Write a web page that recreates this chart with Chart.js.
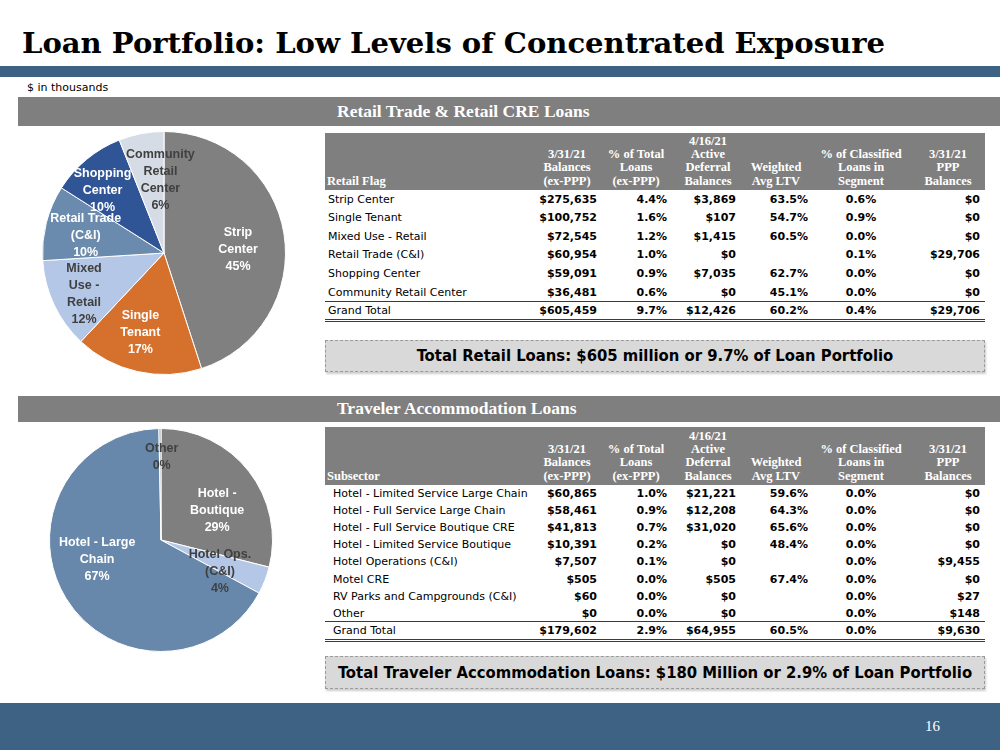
<!DOCTYPE html>
<html>
<head>
<meta charset="utf-8">
<script src="https://cdn.jsdelivr.net/npm/chart.js@4.4.0/dist/chart.umd.min.js"></script>
<style>
body { margin:0; width:1000px; height:750px; position:relative; background:#fff; overflow:hidden; font-family:'DejaVu Sans', sans-serif; }
.abs { position:absolute; white-space:nowrap; }
#title { left:22px; top:26px; font:bold 28px 'DejaVu Serif', serif; color:#000; line-height:36px; transform-origin:0 0; }
.band { left:0; width:1000px; background:#3d6283; }
.section { left:18px; width:982px; background:#7f7f7f; }
.section span { position:absolute; left:319px; color:#fff; font:bold 17.5px 'Liberation Serif', serif; }
.thead { left:325px; width:660px; background:#7f7f7f; }
.hcell { color:#fff; font:bold 12.5px 'Liberation Serif', serif; line-height:13.3px; text-align:center; width:110px; }
.hleft { text-align:left; }
.cell { font-size:11px; line-height:14px; height:14px; color:#000; }
.num { font-weight:bold; }
.rule { left:325px; width:660px; }
.callout { left:325px; width:658px; background:#d9d9d9; border:1px dashed #9a9a9a; text-align:center;
  font:bold 16.5px 'DejaVu Sans Condensed', sans-serif; color:#000; box-shadow:1px 2px 2px rgba(0,0,0,0.2); }
canvas { position:absolute; }
</style>
</head>
<body>
<div id="title" class="abs">Loan Portfolio: Low Levels of Concentrated Exposure</div>
<div class="abs band" style="top:66px;height:11px;"></div>
<div class="abs" style="left:27px;top:81px;font-size:11px;">$ in thousands</div>

<div class="abs section" style="top:97px;height:29px;"><span style="top:4px;">Retail Trade &amp; Retail CRE Loans</span></div>
<div class="abs section" style="top:396px;height:26px;"><span style="top:2px;">Traveler Accommodation Loans</span></div>

<canvas id="retailPie" width="244" height="244" style="left:42px;top:131px;"></canvas>
<canvas id="hotelPie" width="224" height="224" style="left:49px;top:428px;"></canvas>

<div id="tables"></div>

<div class="abs callout" style="top:340px;height:30px;line-height:30px;">Total Retail Loans: $605 million or 9.7% of Loan Portfolio</div>
<div class="abs callout" style="top:656px;height:31px;line-height:31px;">Total Traveler Accommodation Loans: $180 Million or 2.9% of Loan Portfolio</div>

<div class="abs band" style="top:703px;height:47px;"></div>
<div class="abs" style="left:925px;top:718px;font:15px 'Liberation Serif', serif;color:#fff;">16</div>

<script>
// retail table
const retailFlags = ['Strip Center', 'Single Tenant', 'Mixed Use - Retail', 'Retail Trade (C&I)', 'Shopping Center', 'Community Retail Center'];
const retailBalances = [275635, 100752, 72545, 60954, 59091, 36481];
const retailPctTotal = [4.4, 1.6, 1.2, 1.0, 0.9, 0.6];
const retailDeferral = [3869, 107, 1415, 0, 7035, 0];
const retailLtv = [63.5, 54.7, 60.5, null, 62.7, 45.1];
const retailClassified = [0.6, 0.9, 0.0, 0.1, 0.0, 0.0];
const retailPpp = [0, 0, 0, 29706, 0, 0];
const retailTotal = [605459, 9.7, 12426, 60.2, 0.4, 29706];

// retail pie
const retailPieLabels = [['Strip', 'Center'], ['Single', 'Tenant'], ['Mixed', 'Use -', 'Retail'], ['Retail Trade', '(C&I)'], ['Shopping', 'Center'], ['Community', 'Retail', 'Center']];
const retailPiePct = [45, 17, 12, 10, 10, 6];

// hotel table
const hotelSubsectors = ['Hotel - Limited Service Large Chain', 'Hotel - Full Service Large Chain', 'Hotel - Full Service Boutique CRE', 'Hotel - Limited Service Boutique', 'Hotel Operations (C&I)', 'Motel CRE', 'RV Parks and Campgrounds (C&I)', 'Other'];
const hotelBalances = [60865, 58461, 41813, 10391, 7507, 505, 60, 0];
const hotelPctTotal = [1.0, 0.9, 0.7, 0.2, 0.1, 0.0, 0.0, 0.0];
const hotelDeferral = [21221, 12208, 31020, 0, 0, 505, 0, 0];
const hotelLtv = [59.6, 64.3, 65.6, 48.4, null, 67.4, null, null];
const hotelClassified = [0.0, 0.0, 0.0, 0.0, 0.0, 0.0, 0.0, 0.0];
const hotelPpp = [0, 0, 0, 0, 9455, 0, 27, 148];
const hotelTotal = [179602, 2.9, 64955, 60.5, 0.0, 9630];

// hotel pie
const hotelPieLabels = [['Hotel -', 'Boutique'], ['Hotel Ops.', '(C&I)'], ['Hotel - Large', 'Chain'], ['Other']];
const hotelPiePct = [29, 4, 67, 0.3];

const headers = ['3/31/21<br>Balances<br>(ex-PPP)', '% of Total<br>Loans<br>(ex-PPP)', '4/16/21<br>Active<br>Deferral<br>Balances',
  'Weighted<br>Avg LTV', '% of Classified<br>Loans in<br>Segment', '3/31/21<br>PPP<br>Balances'];
const headCenters = [567, 636, 708, 776, 861, 948];
// [x, align] for the value columns
const cols = [[597, 'r'], [667, 'r'], [736, 'r'], [808, 'r'], [861, 'c'], [980, 'r']];

const money = v => '$' + v.toLocaleString('en-US');
const pct = v => v == null ? '' : v.toFixed(1) + '%';
const fmts = [money, pct, money, pct, pct, money];

// fit title width to the slide
const title = document.getElementById('title');
title.style.transform = 'scaleX(' + (863 / title.getBoundingClientRect().width) + ')';

const host = document.getElementById('tables');
function el(cls, css, html) {
  const d = document.createElement('div');
  d.className = 'abs ' + cls;
  d.style.cssText = css;
  d.innerHTML = html;
  host.appendChild(d);
  return d;
}

function drawTable(t) {
  el('thead', `top:${t.headTop}px;height:${t.headBottom - t.headTop}px;`, '');
  el('hcell hleft', `left:327px;bottom:${750 - t.headBottom + 2}px;`, t.firstHeader);
  headers.forEach((h, i) => {
    el('hcell', `left:${headCenters[i] - 55}px;bottom:${750 - t.headBottom + 2}px;`, h);
  });
  const rows = t.names.map((n, i) => [n, t.series.map(s => s[i])]);
  rows.push(['Grand Total', t.total]);
  rows.forEach((r, i) => {
    const y = t.rowTop + i * t.pitch - 7;
    el('cell', `left:${t.nameX}px;top:${y}px;`, r[0].replace('&', '&amp;'));
    r[1].forEach((v, c) => {
      const [x, a] = cols[c];
      const txt = fmts[c](v);
      if (a === 'r') el('cell num', `right:${1000 - x}px;top:${y}px;`, txt);
      else el('cell num', `left:${x - 30}px;width:60px;text-align:center;top:${y}px;`, txt);
    });
  });
  const gtY = t.rowTop + t.names.length * t.pitch;
  el('rule', `top:${gtY - 10}px;height:0;border-top:1.5px solid #3a3a3a;`, '');
  el('rule', `top:${gtY + 8}px;height:0;border-top:3px double #3a3a3a;`, '');
}

drawTable({
  names: retailFlags, firstHeader: 'Retail Flag', nameX: 328,
  series: [retailBalances, retailPctTotal, retailDeferral, retailLtv, retailClassified, retailPpp],
  total: retailTotal, headTop: 133, headBottom: 190, rowTop: 199.5, pitch: 18.6
});
drawTable({
  names: hotelSubsectors, firstHeader: 'Subsector', nameX: 333,
  series: [hotelBalances, hotelPctTotal, hotelDeferral, hotelLtv, hotelClassified, hotelPpp],
  total: hotelTotal, headTop: 427, headBottom: 485, rowTop: 494, pitch: 17.1
});

// labels inside the slices
const sliceLabels = {
  id: 'sliceLabels',
  afterDatasetsDraw(chart, args, opts) {
    const ctx = chart.ctx;
    const meta = chart.getDatasetMeta(0);
    const data = chart.data.datasets[0].data;
    ctx.save();
    ctx.font = opts.font;
    ctx.textAlign = 'center';
    ctx.textBaseline = 'middle';
    meta.data.forEach((arc, i) => {
      const p = arc.getProps(['x', 'y', 'startAngle', 'endAngle', 'outerRadius'], true);
      const a = (p.startAngle + p.endAngle) / 2 + opts.shift[i] * Math.PI / 180;
      const r = p.outerRadius * opts.radius[i];
      const cx = p.x + Math.cos(a) * r;
      const cy = p.y + Math.sin(a) * r;
      const lines = chart.data.labels[i].concat([Math.round(data[i]) + '%']);
      ctx.fillStyle = opts.colors[i];
      lines.forEach((t, k) => {
        ctx.fillText(t, cx, cy + (k - (lines.length - 1) / 2) * opts.lineHeight);
      });
    });
    ctx.restore();
  }
};

function pie(id, labels, values, colors, labelOpts) {
  return new Chart(document.getElementById(id), {
    type: 'pie',
    data: {
      labels: labels,
      datasets: [{
        data: values,
        backgroundColor: colors,
        borderColor: '#ffffff',
        borderWidth: 1
      }]
    },
    options: {
      responsive: false,
      animation: false,
      events: [],
      devicePixelRatio: 1,
      layout: { padding: 0 },
      plugins: {
        legend: { display: false },
        tooltip: { enabled: false },
        sliceLabels: labelOpts
      }
    },
    plugins: [sliceLabels]
  });
}

pie('retailPie', retailPieLabels, retailPiePct,
  ['#808080', '#d5702d', '#b4c7e7', '#6a8bad', '#2f5597', '#d6dce5'],
  {
    font: "bold 12.5px 'Liberation Sans', Arial, sans-serif",
    lineHeight: 17,
    colors: ['#ffffff', '#ffffff', '#404040', '#ffffff', '#ffffff', '#404040'],
    radius: [0.61, 0.68, 0.74, 0.66, 0.72, 0.6],
    shift: [6, 4, -2, -2, -5, 8]
  });

pie('hotelPie', hotelPieLabels, hotelPiePct,
  ['#7f7f7f', '#b4c7e7', '#6788aa', '#a5a5a5'],
  {
    font: "bold 12.5px 'Liberation Sans', Arial, sans-serif",
    lineHeight: 17,
    colors: ['#ffffff', '#404040', '#ffffff', '#404040'],
    radius: [0.57, 0.6, 0.6, 0.74],
    shift: [10, 7, 14, 1]
  });
</script>
</body>
</html>
